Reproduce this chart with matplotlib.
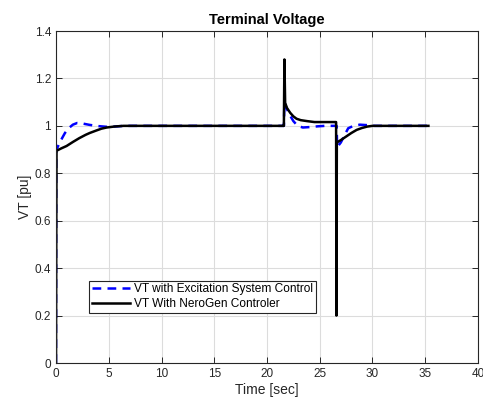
import numpy as np
import matplotlib.pyplot as plt
import matplotlib as mpl

mpl.rc('font', family=['Liberation Sans', 'DejaVu Sans'], size=8)

# VT with excitation system control (dashed blue)
t_exc = [0, 0.02, 0.05, 0.3, 0.6, 0.85, 1.2, 1.6, 2.0, 2.5, 3.2, 4.0, 4.8, 5.5, 6.5, 8, 10, 15, 20, 21.55,
         21.6, 21.65, 21.8, 22.1, 22.5, 22.9, 23.4, 24.1, 24.8, 25.5, 26.5, 26.6,
         26.65, 27.0, 27.4, 27.7, 28.2, 28.8, 29.5, 30.2, 31, 33, 35.3]
v_exc = [0, 0.90, 0.90, 0.925, 0.95, 0.97, 0.99, 1.005, 1.012, 1.01, 1.004, 0.999, 0.996, 0.997, 1.0, 1.0, 1.0, 1.0, 1.0, 1.0,
         1.0, 1.10, 1.08, 1.05, 1.02, 1.0, 0.993, 0.995, 0.998, 1.0, 1.0, 1.0,
         0.91, 0.93, 0.965, 0.99, 1.0, 1.005, 1.003, 1.0, 1.0, 1.0, 1.0]

# VT with NeroGen controller (solid black)
t_nero = [0, 0.03, 0.05, 0.5, 1.0, 1.6, 2.2, 2.8, 3.2, 3.8, 4.3, 4.8, 5.5, 6.4, 7.5, 10, 15, 20, 21.55,
          21.6, 21.65, 21.72, 21.9, 22.2, 22.5, 22.8, 23.2, 23.8, 24.5, 25.5, 26.5,
          26.55, 26.58, 26.62, 27.0, 27.5, 28.0, 28.5, 29.0, 29.5, 30.0, 31, 33, 35.3]
v_nero = [0, 0.6, 0.895, 0.905, 0.915, 0.932, 0.948, 0.962, 0.97, 0.98, 0.988, 0.993, 0.997, 1.0, 1.0, 1.0, 1.0, 1.0, 1.0,
          1.0, 1.28, 1.097, 1.075, 1.055, 1.04, 1.03, 1.024, 1.02, 1.016, 1.016, 1.016,
          1.016, 0.2, 0.93, 0.94, 0.955, 0.97, 0.983, 0.991, 0.997, 1.0, 1.0, 1.0, 1.0]

fig = plt.figure(figsize=(4.83, 4.05), dpi=100)
ax = fig.add_axes([56/483, 1-363/405, 422/483, 332/405])

ax.plot(t_exc, v_exc, color=(0, 0, 1), linestyle=(0, (3.5, 2.5)), linewidth=1.8,
        label='VT with Excitation System Control')
ax.plot(t_nero, v_nero, color='k', linewidth=1.8, label='VT With NeroGen Controler')

ax.set_xlim([0, 40])
ax.set_ylim([0, 1.4])
ax.set_xticks(np.arange(0, 41, 5))
ax.set_yticks(np.arange(0, 1.41, 0.2))
ax.set_yticklabels(['0', '0.2', '0.4', '0.6', '0.8', '1', '1.2', '1.4'])
ax.grid(True, color='#dcdcdc', linewidth=0.8)
ax.set_axisbelow(True)
ax.tick_params(direction='in', top=True, right=True, length=4, width=0.7, colors='#262626', labelsize=8.5)
for s in ax.spines.values():
    s.set_linewidth(0.8)
    s.set_color('#262626')

ax.set_xlabel('Time [sec]', fontsize=10, color='#262626', labelpad=2)
ax.set_ylabel('VT [pu]', fontsize=10, color='#262626', labelpad=2)
ax.set_title('Terminal Voltage', fontsize=10.5, fontweight='bold', pad=5)

leg = ax.legend(loc='lower left', bbox_to_anchor=(0.078, 0.151), borderaxespad=0,
                fancybox=False, framealpha=1, edgecolor='#262626', fontsize=8.6,
                handlelength=3.2, handletextpad=0.3, borderpad=0.25, labelspacing=0.2)
leg.get_frame().set_linewidth(0.8)

fig.savefig('out.png', dpi=100)
